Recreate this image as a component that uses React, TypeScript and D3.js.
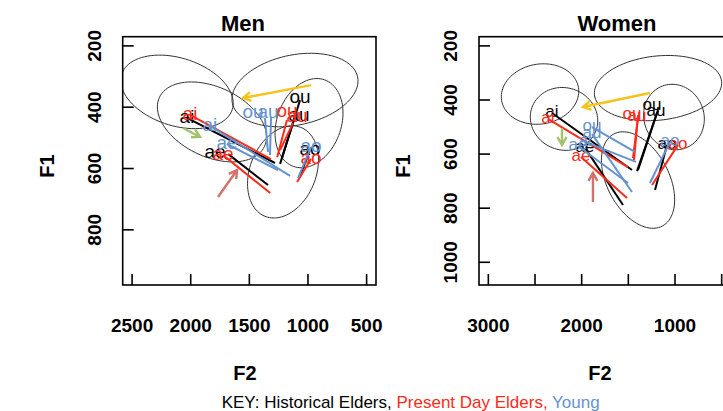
import React from "react";
import * as d3 from "d3";

// series (speaker groups) and their colours
const SERIES = ["Historical Elders", "Present Day Elders", "Young"];
const SERIES_COLOR: Record<string, string> = {
  "Historical Elders": "#000000",
  "Present Day Elders": "#ff2a1a",
  "Young": "#6593cf",
};

// axis ticks
const menXTicks = [2500, 2000, 1500, 1000, 500];
const menXLabels = [2500, 2000, 1500, 1000, 500];
const menYTicks = [200, 400, 600, 800];
const womenXTicks = [3000, 2500, 2000, 1500, 1000, 500];
const womenXLabels = [3000, 2000, 1000];
const womenYTicks = [200, 400, 600, 800, 1000];

// diphthong tracks: series, vowel, label [F2,F1], onset [F2,F1], offset [F2,F1]
type Track = { s: string; v: string; lab: number[]; on: number[]; off: number[] };
const menTracks: Track[] = [
  { s: "Historical Elders", v: "ai", lab: [2032, 435], on: [2032, 435], off: [1281, 582] },
  { s: "Historical Elders", v: "ae", lab: [1793, 549], on: [1680, 553], off: [1341, 654] },
  { s: "Historical Elders", v: "ou", lab: [1068, 370], on: [1068, 377], off: [1238, 585] },
  { s: "Historical Elders", v: "au", lab: [1077, 429], on: [1110, 429], off: [1222, 566] },
  { s: "Historical Elders", v: "ao", lab: [983, 540], on: [983, 540], off: [1068, 624] },
  { s: "Present Day Elders", v: "ai", lab: [2006, 425], on: [2006, 425], off: [1316, 569] },
  { s: "Present Day Elders", v: "ae", lab: [1725, 556], on: [1725, 556], off: [1322, 680] },
  { s: "Present Day Elders", v: "ou", lab: [1179, 416], on: [1179, 442], off: [1263, 563] },
  { s: "Present Day Elders", v: "au", lab: [1094, 432], on: [1128, 452], off: [1238, 540] },
  { s: "Present Day Elders", v: "ao", lab: [974, 569], on: [974, 569], off: [1093, 644] },
  { s: "Young", v: "ai", lab: [1836, 461], on: [1836, 461], off: [1153, 624] },
  { s: "Young", v: "ae", lab: [1691, 520], on: [1691, 520], off: [1256, 605] },
  { s: "Young", v: "ou", lab: [1469, 419], on: [1367, 435], off: [1341, 546] },
  { s: "Young", v: "au", lab: [1341, 419], on: [1315, 432], off: [1324, 556] },
  { s: "Young", v: "ao", lab: [974, 530], on: [974, 530], off: [1085, 631] },
];
const womenTracks: Track[] = [
  { s: "Historical Elders", v: "ai", lab: [2318, 448], on: [2318, 448], off: [1461, 659] },
  { s: "Historical Elders", v: "ae", lab: [1964, 577], on: [1964, 577], off: [1557, 788] },
  { s: "Historical Elders", v: "ou", lab: [1246, 419], on: [1182, 437], off: [1407, 663] },
  { s: "Historical Elders", v: "au", lab: [1204, 441], on: [1190, 445], off: [1396, 659] },
  { s: "Historical Elders", v: "ao", lab: [1086, 566], on: [1086, 566], off: [1214, 733] },
  { s: "Present Day Elders", v: "ai", lab: [2361, 470], on: [2361, 470], off: [1504, 648] },
  { s: "Present Day Elders", v: "ae", lab: [2007, 611], on: [2007, 611], off: [1514, 762] },
  { s: "Present Day Elders", v: "ou", lab: [1461, 455], on: [1396, 456], off: [1439, 622] },
  { s: "Present Day Elders", v: "au", lab: [1407, 463], on: [1396, 463], off: [1450, 615] },
  { s: "Present Day Elders", v: "ao", lab: [968, 566], on: [968, 566], off: [1246, 714] },
  { s: "Young", v: "ai", lab: [1964, 555], on: [1964, 555], off: [1418, 629] },
  { s: "Young", v: "ae", lab: [2039, 570], on: [2039, 570], off: [1504, 707] },
  { s: "Young", v: "ou", lab: [1889, 500], on: [1889, 500], off: [1429, 592] },
  { s: "Young", v: "au", lab: [1889, 526], on: [1889, 526], off: [1461, 740] },
  { s: "Young", v: "ao", lab: [1054, 555], on: [1054, 555], off: [1268, 707] },
];

// vowel ellipses: centre [F2,F1], semi-axis vectors a and b in [dF2,dF1]
type Ell = { c: number[]; a: number[]; b: number[] };
const menEllipses: Ell[] = [
  { c: [2117, 350], a: [-471, 58], b: [90, 105] },
  { c: [1819, 448], a: [-448, 80], b: [126, 103] },
  { c: [1111, 344], a: [-534, -43], b: [-62, 112] },
  { c: [991, 452], a: [-134, -141], b: [-257, 36] },
  { c: [1213, 611], a: [-153, -145], b: [-261, 40] },
];
const womenEllipses: Ell[] = [
  { c: [2446, 378], a: [-411, -25], b: [-56, 109] },
  { c: [2189, 470], a: [-343, 43], b: [114, 108] },
  { c: [1182, 356], a: [-681, -25], b: [-36, 118] },
  { c: [1011, 463], a: [-121, 115], b: [302, 38] },
  { c: [1396, 696], a: [-261, 170], b: [293, 54] },
];

// change arrows: from [F2,F1] to [F2,F1]
type Arr = { k: string; from: number[]; to: number[] };
const ARROW_COLOR: Record<string, string> = { ou: "#f6c21c", ai: "#9fc46c", ae: "#d2726a" };
const menArrows: Arr[] = [
  { k: "ou", from: [974, 328], to: [1554, 370] },
  { k: "ai", from: [2066, 468], to: [1921, 497] },
  { k: "ae", from: [1767, 693], to: [1605, 605] },
];
const womenArrows: Arr[] = [
  { k: "ou", from: [1268, 374], to: [1986, 426] },
  { k: "ai", from: [2211, 504], to: [2211, 566] },
  { k: "ae", from: [1879, 777], to: [1879, 670] },
];

const FONT = "'Liberation Sans', Arial, Helvetica, sans-serif";

type PanelProps = {
  id: string;
  title: string;
  tracks: Track[];
  ellipses: Ell[];
  arrows: Arr[];
  xDomain: number[];
  yDomain: number[];
  box: { x0: number; x1: number; y0: number; y1: number };
  xTicks: number[];
  xLabels: number[];
  yTicks: number[];
  labelSize: number;
  titleX: number;
  xlabX: number;
  ylabX: number;
  yTickLabX: number;
};

function Panel(p: PanelProps) {
  const { box } = p;
  const x = d3.scaleLinear().domain(p.xDomain).range([box.x0, box.x1]);
  const y = d3.scaleLinear().domain(p.yDomain).range([box.y0, box.y1]);
  const line = d3.line().curve(d3.curveLinearClosed);
  const ellPath = (e: Ell) =>
    line(
      d3.range(90).map((i) => {
        const t = (i / 90) * 2 * Math.PI;
        return [
          x(e.c[0] + Math.cos(t) * e.a[0] + Math.sin(t) * e.b[0]),
          y(e.c[1] + Math.cos(t) * e.a[1] + Math.sin(t) * e.b[1]),
        ] as [number, number];
      })
    ) as string;
  const tick = 11;

  return (
    <g>
      <defs>
        <clipPath id={"clip-" + p.id}>
          <rect x={box.x0} y={box.y0} width={box.x1 - box.x0} height={box.y1 - box.y0} />
        </clipPath>
      </defs>
      <g clipPath={`url(#clip-${p.id})`}>
        {p.ellipses.map((e, i) => (
          <path key={i} d={ellPath(e)} fill="none" stroke="#333" strokeWidth={1} />
        ))}
        {SERIES.map((s) => (
          <g key={s}>
            {p.tracks
              .filter((t) => t.s === s)
              .map((t, i) => (
                <line
                  key={"l" + i}
                  x1={x(t.on[0])}
                  y1={y(t.on[1])}
                  x2={x(t.off[0])}
                  y2={y(t.off[1])}
                  stroke={SERIES_COLOR[s]}
                  strokeWidth={2}
                />
              ))}
            {p.tracks
              .filter((t) => t.s === s)
              .map((t, i) => (
                <text
                  key={"t" + i}
                  x={x(t.lab[0])}
                  y={y(t.lab[1])}
                  dy="0.26em"
                  textAnchor="middle"
                  fontSize={p.labelSize}
                  fill={SERIES_COLOR[s]}
                >
                  {t.v}
                </text>
              ))}
          </g>
        ))}
        {p.arrows.map((a, i) => {
          const x1 = x(a.from[0]), y1 = y(a.from[1]);
          const x2 = x(a.to[0]), y2 = y(a.to[1]);
          const ang = Math.atan2(y2 - y1, x2 - x1);
          const hl = 9;
          const h1 = [x2 - hl * Math.cos(ang - Math.PI / 6), y2 - hl * Math.sin(ang - Math.PI / 6)];
          const h2 = [x2 - hl * Math.cos(ang + Math.PI / 6), y2 - hl * Math.sin(ang + Math.PI / 6)];
          return (
            <path
              key={i}
              d={`M${x1},${y1}L${x2},${y2}M${h1[0]},${h1[1]}L${x2},${y2}L${h2[0]},${h2[1]}`}
              fill="none"
              stroke={ARROW_COLOR[a.k]}
              strokeWidth={2.4}
            />
          );
        })}
      </g>
      {/* frame */}
      <rect
        x={box.x0}
        y={box.y0}
        width={box.x1 - box.x0}
        height={box.y1 - box.y0}
        fill="none"
        stroke="#000"
        strokeWidth={1.6}
      />
      {/* x ticks (inward) */}
      {p.xTicks.map((v) => (
        <line key={"xt" + v} x1={x(v)} x2={x(v)} y1={box.y1} y2={box.y1 - tick} stroke="#000" strokeWidth={1.6} />
      ))}
      {p.xLabels.map((v) => (
        <text
          key={"xl" + v}
          x={x(v)}
          y={332}
          textAnchor="middle"
          fontSize={19}
          fontWeight="bold"
          fill="#000"
        >
          {v}
        </text>
      ))}
      {/* y ticks (inward) */}
      {p.yTicks.map((v) => (
        <line key={"yt" + v} x1={box.x0} x2={box.x0 + tick} y1={y(v)} y2={y(v)} stroke="#000" strokeWidth={1.6} />
      ))}
      {p.yTicks.map((v) => (
        <text
          key={"yl" + v}
          transform={`translate(${p.yTickLabX},${y(v)}) rotate(-90)`}
          textAnchor="middle"
          fontSize={19}
          fontWeight="bold"
          fill="#000"
        >
          {v}
        </text>
      ))}
      <text x={p.titleX} y={31} textAnchor="middle" fontSize={22} fontWeight="bold">
        {p.title}
      </text>
      <text x={p.xlabX} y={380} textAnchor="middle" fontSize={20} fontWeight="bold">
        F2
      </text>
      <text
        transform={`translate(${p.ylabX},166) rotate(-90)`}
        textAnchor="middle"
        fontSize={20}
        fontWeight="bold"
      >
        F1
      </text>
    </g>
  );
}

export default function App() {
  return (
    <div style={{ position: "absolute", left: 0, top: 0, background: "#fff" }}>
      <svg width={723} height={411} style={{ display: "block", fontFamily: FONT }}>
        <rect width={723} height={411} fill="#fff" />
        <Panel
          id="men"
          title="Men"
          tracks={menTracks}
          ellipses={menEllipses}
          arrows={menArrows}
          xDomain={[2580, 420]}
          yDomain={[170, 980]}
          box={{ x0: 122.7, x1: 376, y0: 36.7, y1: 285 }}
          xTicks={menXTicks}
          xLabels={menXLabels}
          yTicks={menYTicks}
          labelSize={19}
          titleX={243}
          xlabX={245}
          ylabX={54}
          yTickLabX={100.7}
        />
        <Panel
          id="women"
          title="Women"
          tracks={womenTracks}
          ellipses={womenEllipses}
          arrows={womenArrows}
          xDomain={[3100, 400]}
          yDomain={[166, 1084]}
          box={{ x0: 479, x1: 731, y0: 36.7, y1: 285 }}
          xTicks={womenXTicks}
          xLabels={womenXLabels}
          yTicks={womenYTicks}
          labelSize={17}
          titleX={617}
          xlabX={600}
          ylabX={410}
          yTickLabX={456.7}
        />
        <text x={221.7} y={407.5} fontSize={17}>
          <tspan fill="#000">KEY: Historical Elders, </tspan>
          <tspan fill={SERIES_COLOR["Present Day Elders"]}>Present Day Elders, </tspan>
          <tspan fill={SERIES_COLOR["Young"]}>Young</tspan>
        </text>
      </svg>
    </div>
  );
}
